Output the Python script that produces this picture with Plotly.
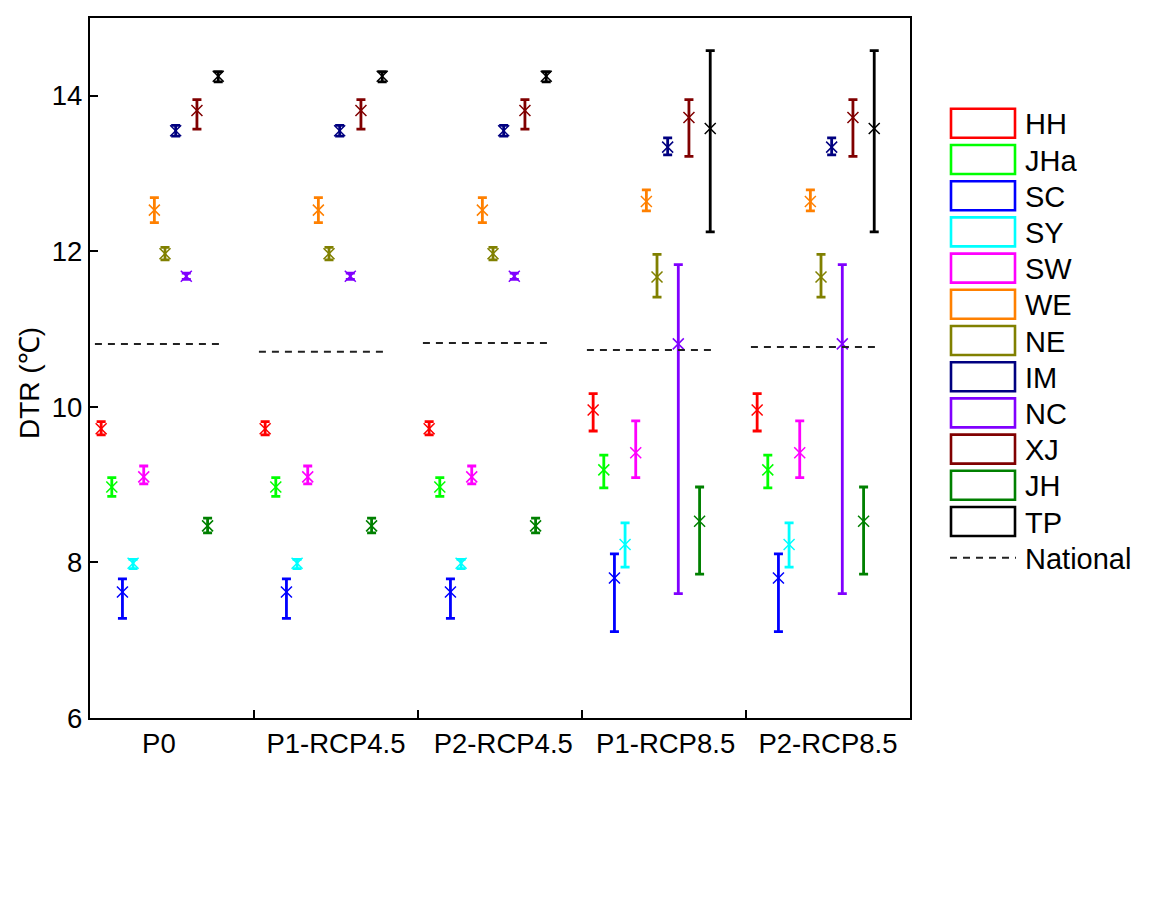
import plotly.graph_objects as go

periods = ["P0", "P1-RCP4.5", "P2-RCP4.5", "P1-RCP8.5", "P2-RCP8.5"]
regions = ["HH", "JHa", "SC", "SY", "SW", "WE", "NE", "IM", "NC", "XJ", "JH", "TP"]
colors = ["#FF0000", "#00FF00", "#0000FF", "#00FFFF", "#FF00FF", "#FF8000",
          "#808000", "#000080", "#8000FF", "#800000", "#008000", "#000000"]

# mean DTR per region, one value per period
mean = {
    "HH":  [9.72, 9.72, 9.72, 9.96, 9.96],
    "JHa": [8.97, 8.97, 8.97, 9.19, 9.19],
    "SC":  [7.62, 7.62, 7.62, 7.80, 7.80],
    "SY":  [7.99, 7.99, 7.99, 8.23, 8.23],
    "SW":  [9.10, 9.10, 9.10, 9.41, 9.41],
    "WE":  [12.53, 12.53, 12.53, 12.64, 12.64],
    "NE":  [11.97, 11.97, 11.97, 11.67, 11.67],
    "IM":  [13.55, 13.55, 13.55, 13.34, 13.34],
    "NC":  [11.68, 11.68, 11.68, 10.81, 10.81],
    "XJ":  [13.81, 13.81, 13.81, 13.72, 13.72],
    "JH":  [8.47, 8.47, 8.47, 8.53, 8.53],
    "TP":  [14.25, 14.25, 14.25, 13.58, 13.58],
}
err_plus = {
    "HH":  [0.09, 0.09, 0.09, 0.21, 0.21],
    "JHa": [0.12, 0.12, 0.12, 0.19, 0.19],
    "SC":  [0.17, 0.17, 0.17, 0.31, 0.31],
    "SY":  [0.05, 0.05, 0.05, 0.28, 0.28],
    "SW":  [0.14, 0.14, 0.14, 0.41, 0.41],
    "WE":  [0.16, 0.16, 0.16, 0.15, 0.15],
    "NE":  [0.08, 0.08, 0.08, 0.29, 0.29],
    "IM":  [0.07, 0.07, 0.07, 0.12, 0.12],
    "NC":  [0.04, 0.04, 0.04, 1.02, 1.02],
    "XJ":  [0.14, 0.14, 0.14, 0.23, 0.23],
    "JH":  [0.10, 0.10, 0.10, 0.44, 0.44],
    "TP":  [0.06, 0.06, 0.06, 1.00, 1.00],
}
err_minus = {
    "HH":  [0.08, 0.08, 0.08, 0.27, 0.27],
    "JHa": [0.12, 0.12, 0.12, 0.23, 0.23],
    "SC":  [0.34, 0.34, 0.34, 0.69, 0.69],
    "SY":  [0.07, 0.07, 0.07, 0.29, 0.29],
    "SW":  [0.09, 0.09, 0.09, 0.32, 0.32],
    "WE":  [0.16, 0.16, 0.16, 0.12, 0.12],
    "NE":  [0.08, 0.08, 0.08, 0.26, 0.26],
    "IM":  [0.07, 0.07, 0.07, 0.10, 0.10],
    "NC":  [0.04, 0.04, 0.04, 3.21, 3.21],
    "XJ":  [0.24, 0.24, 0.24, 0.50, 0.50],
    "JH":  [0.09, 0.09, 0.09, 0.68, 0.68],
    "TP":  [0.07, 0.07, 0.07, 1.33, 1.33],
}
national = [10.81, 10.71, 10.82, 10.73, 10.77]
y_ticks = [6, 8, 10, 12, 14]

FONT = "Liberation Sans, Arial, sans-serif"

fig = go.Figure()

# position of each region inside its period slot
def xpos(i, k):
    return i + 0.068 + 0.0649 * k

for k, (r, c) in enumerate(zip(regions, colors)):
    fig.add_trace(go.Scatter(
        x=[xpos(i, k) for i in range(len(periods))],
        y=mean[r],
        mode="markers",
        name=r,
        marker=dict(symbol="x-thin-open", size=11, color=c,
                    line=dict(color=c, width=1.5)),
        error_y=dict(type="data", symmetric=False,
                     array=err_plus[r], arrayminus=err_minus[r],
                     color=c, thickness=2.8, width=4.5),
        showlegend=False,
    ))

# national dashed segments
nx, ny = [], []
for i, v in enumerate(national):
    nx += [i + 0.03, i + 0.82, None]
    ny += [v, v, None]
fig.add_trace(go.Scatter(x=nx, y=ny, mode="lines", name="National",
                         line=dict(color="#222222", width=2, dash="7px,6px"),
                         showlegend=False))

# manual legend (box swatches like the original)
L, T, B = 90, 18, 718
W, H = 820, 700
def px(xp):
    return (xp - L) / W
def py(yp):
    return (B - yp) / H

shapes = []
annotations = []
row0, step = 123.3, 36.2
for k, (r, c) in enumerate(zip(regions, colors)):
    yc = row0 + step * k
    shapes.append(dict(type="rect", xref="paper", yref="paper",
                       x0=px(951), x1=px(1015), y0=py(yc - 14.5), y1=py(yc + 14.5),
                       line=dict(color=c, width=2.6), fillcolor="rgba(0,0,0,0)"))
    annotations.append(dict(text=r, xref="paper", yref="paper",
                            x=px(1023), y=py(yc + 1), xanchor="left", yanchor="middle",
                            showarrow=False, font=dict(size=29, color="black", family=FONT)))
yc = row0 + step * len(regions)
shapes.append(dict(type="line", xref="paper", yref="paper",
                   x0=px(950), x1=px(1016), y0=py(yc), y1=py(yc),
                   line=dict(color="#222222", width=2, dash="7px,6px")))
annotations.append(dict(text="National", xref="paper", yref="paper",
                        x=px(1023), y=py(yc + 1), xanchor="left", yanchor="middle",
                        showarrow=False, font=dict(size=29, color="black", family=FONT)))

# y-axis title
annotations.append(dict(text="DTR (℃)", xref="paper", yref="paper",
                        x=px(30), y=py(383), xanchor="center", yanchor="middle",
                        textangle=-90, showarrow=False,
                        font=dict(size=28, color="black", family=FONT)))

fig.update_layout(
    width=1152, height=910,
    margin=dict(l=L, r=1152 - L - W, t=T, b=910 - B, pad=0),
    paper_bgcolor="white", plot_bgcolor="white",
    font=dict(family=FONT, size=27, color="black"),
    shapes=shapes, annotations=annotations,
    showlegend=False,
)
fig.update_xaxes(
    range=[0, 5], showgrid=False, zeroline=False,
    showline=True, linecolor="black", linewidth=2.2, mirror=True,
    tickmode="array", tickvals=[0.42, 1.5, 2.52, 3.51, 4.5], ticktext=periods,
    ticks="", tickfont=dict(size=27.5, family=FONT, color="black"),
    minor=dict(tickmode="array", tickvals=[1, 2, 3, 4], ticks="inside",
               ticklen=8, tickwidth=2, tickcolor="black", showgrid=False),
)
fig.update_yaxes(
    range=[6, 15], showgrid=False, zeroline=False,
    showline=True, linecolor="black", linewidth=2.2, mirror=True,
    tickmode="array", tickvals=y_ticks, ticktext=[str(t) for t in y_ticks],
    ticks="inside", ticklen=8, tickwidth=2, tickcolor="black",
    tickfont=dict(size=27.5, family=FONT, color="black"),
)

fig.write_html("out.html")
